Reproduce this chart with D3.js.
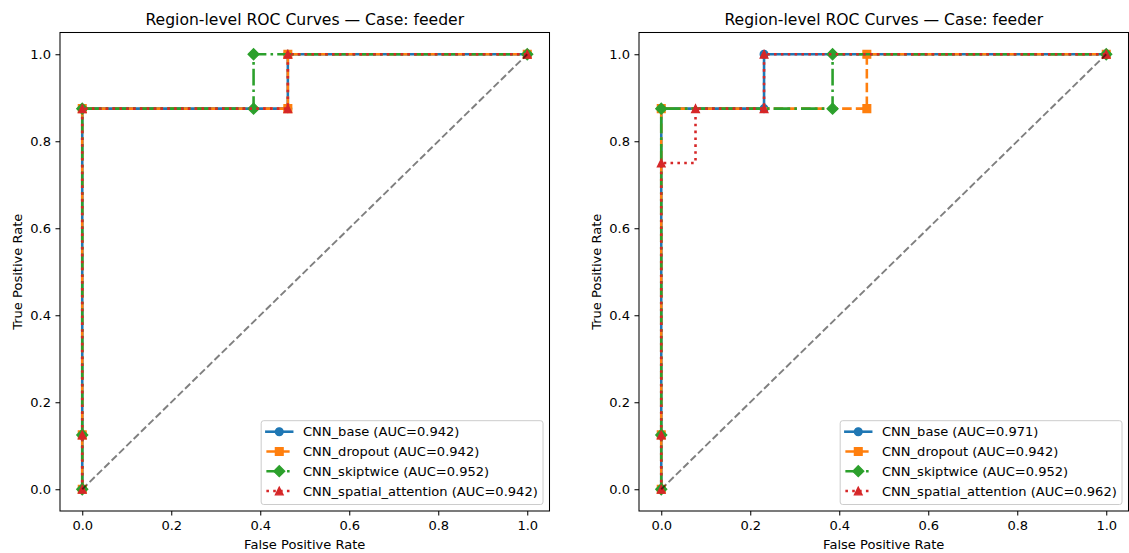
<!DOCTYPE html>
<html>
<head>
<meta charset="utf-8">
<script src="https://cdn.jsdelivr.net/npm/d3@7"></script>
<style>
  html, body { margin: 0; padding: 0; background: #fff; }
  svg { display: block; font-family: "DejaVu Sans", sans-serif; }
</style>
</head>
<body>
<svg id="chart" width="1129" height="553"></svg>
<script>
// ---- data ----
const models = ["CNN_base", "CNN_dropout", "CNN_skiptwice", "CNN_spatial_attention"];
const colors = ["#1f77b4", "#ff7f0e", "#2ca02c", "#d62728"];
const title = "Region-level ROC Curves \u2014 Case: feeder";
const tickValues = [0.0, 0.2, 0.4, 0.6, 0.8, 1.0];

// left panel (FPR / TPR per model)
const leftFPR = [
  [0, 0, 0, 0.462, 0.462, 1],
  [0, 0, 0, 0.462, 0.462, 1],
  [0, 0, 0, 0.385, 0.385, 1],
  [0, 0, 0, 0.462, 0.462, 1]
];
const leftTPR = [
  [0, 0.125, 0.875, 0.875, 1, 1],
  [0, 0.125, 0.875, 0.875, 1, 1],
  [0, 0.125, 0.875, 0.875, 1, 1],
  [0, 0.125, 0.875, 0.875, 1, 1]
];
const leftAUC = [0.942, 0.942, 0.952, 0.942];

// right panel
const rightFPR = [
  [0, 0, 0, 0.231, 0.231, 1],
  [0, 0, 0, 0.462, 0.462, 1],
  [0, 0, 0, 0.385, 0.385, 1],
  [0, 0, 0, 0.077, 0.231, 0.231, 1]
];
const rightTPR = [
  [0, 0.125, 0.875, 0.875, 1, 1],
  [0, 0.125, 0.875, 0.875, 1, 1],
  [0, 0.125, 0.875, 0.875, 1, 1],
  [0, 0.125, 0.75, 0.875, 0.875, 1, 1]
];
const rightAUC = [0.971, 0.942, 0.952, 0.962];

// ---- styling ----
const PT = 1.292;               // one point in pixels
const LW = 2 * PT;              // curve line width
const MS = 6 * PT;              // marker size
const MEW = 1 * PT;             // marker edge width
const dashes = [
  null,
  [3.7 * 2 * PT, 1.6 * 2 * PT],
  [6.4 * 2 * PT, 1.6 * 2 * PT, 1 * 2 * PT, 1.6 * 2 * PT],
  [1 * 2 * PT, 1.65 * 2 * PT]
];
const markerKinds = ["circle", "square", "diamond", "triangle"];
const FS = 13.05;               // tick / label / legend font size
const TITLE_FS = 15.6;

function markerPath(kind) {
  const h = MS / 2;
  if (kind === "circle") {
    return `M${h},0A${h},${h} 0 1,1 ${-h},0A${h},${h} 0 1,1 ${h},0Z`;
  }
  if (kind === "square") {
    return `M${-h},${-h}L${h},${-h}L${h},${h}L${-h},${h}Z`;
  }
  if (kind === "diamond") {
    const d = MS * Math.SQRT1_2;
    return `M0,${-d}L${d},0L0,${d}L${-d},0Z`;
  }
  return `M0,${-h}L${-h},${h}L${h},${h}Z`;
}

const svg = d3.select("#chart");
const plotTop = 32.5, plotBottom = 511;

function panel(x0, x1, fprs, tprs, aucs) {
  const g = svg.append("g");
  const x = d3.scaleLinear().domain([-0.05, 1.05]).range([x0, x1]);
  const y = d3.scaleLinear().domain([-0.05, 1.05]).range([plotBottom, plotTop]);

  const clipId = "clip" + Math.round(x0);
  g.append("clipPath").attr("id", clipId)
    .append("rect").attr("x", x0).attr("y", plotTop)
    .attr("width", x1 - x0).attr("height", plotBottom - plotTop);

  const plot = g.append("g").attr("clip-path", `url(#${clipId})`);
  const line = d3.line().x(d => x(d[0])).y(d => y(d[1])).curve(d3.curveStepAfter);

  models.forEach((m, i) => {
    const pts = fprs[i].map((f, j) => [f, tprs[i][j]]);
    plot.append("path")
      .attr("d", line(pts))
      .attr("fill", "none")
      .attr("stroke", colors[i])
      .attr("stroke-width", LW)
      .attr("stroke-linejoin", "round")
      .attr("stroke-linecap", dashes[i] ? "butt" : "square")
      .attr("stroke-dasharray", dashes[i] ? dashes[i].join(",") : null);
    plot.selectAll(null).data(pts).enter().append("path")
      .attr("d", markerPath(markerKinds[i]))
      .attr("transform", d => `translate(${x(d[0])},${y(d[1])})`)
      .attr("fill", colors[i])
      .attr("stroke", colors[i])
      .attr("stroke-width", MEW)
      .attr("stroke-linejoin", "miter");
  });

  // chance diagonal
  plot.append("line")
    .attr("x1", x(0)).attr("y1", y(0)).attr("x2", x(1)).attr("y2", y(1))
    .attr("stroke", "#000").attr("stroke-opacity", 0.5)
    .attr("stroke-width", 1.5 * PT)
    .attr("stroke-dasharray", [3.7 * 1.5 * PT, 1.6 * 1.5 * PT].join(","));

  // axes
  const xAxis = d3.axisBottom(x).tickValues(tickValues).tickFormat(d3.format(".1f"))
    .tickSize(3.5 * PT).tickPadding(3.5 * PT);
  const yAxis = d3.axisLeft(y).tickValues(tickValues).tickFormat(d3.format(".1f"))
    .tickSize(3.5 * PT).tickPadding(3.5 * PT);

  const gx = g.append("g").attr("transform", `translate(0,${plotBottom})`).call(xAxis);
  const gy = g.append("g").attr("transform", `translate(${x0},0)`).call(yAxis);
  [gx, gy].forEach(a => {
    a.select(".domain").remove();
    a.selectAll(".tick line").attr("stroke", "#000").attr("stroke-width", 0.8 * PT);
    a.selectAll(".tick text").attr("fill", "#000")
      .style("font-family", "DejaVu Sans").style("font-size", FS + "px");
  });
  gx.selectAll(".tick text").attr("dy", null).attr("y", 19);
  gy.selectAll(".tick text").attr("dy", null).attr("y", 4.7);

  // frame
  g.append("rect")
    .attr("x", x0).attr("y", plotTop).attr("width", x1 - x0).attr("height", plotBottom - plotTop)
    .attr("fill", "none").attr("stroke", "#000").attr("stroke-width", 0.8 * PT);

  // title and axis labels
  g.append("text").attr("x", (x0 + x1) / 2).attr("y", 25)
    .attr("text-anchor", "middle").style("font-size", TITLE_FS + "px").text(title);
  g.append("text").attr("x", (x0 + x1) / 2).attr("y", 548.5)
    .attr("text-anchor", "middle").style("font-size", FS + "px").text("False Positive Rate");
  g.append("text")
    .attr("transform", `translate(${x0 - 38.5},${(plotTop + plotBottom) / 2}) rotate(-90)`)
    .attr("text-anchor", "middle").style("font-size", FS + "px").text("True Positive Rate");

  // legend (lower right)
  const lg = g.append("g");
  const labels = models.map((m, i) => `${m} (AUC=${aucs[i].toFixed(3)})`);
  const texts = lg.selectAll("text").data(labels).enter().append("text")
    .style("font-size", FS + "px").text(d => d);
  const maxW = d3.max(texts.nodes(), n => n.getComputedTextLength());
  const pad = 5.2, handleLen = 25.8, textPad = 10.8;
  const boxW = pad + handleLen + textPad + maxW + pad;
  const boxR = x1 - 6.5, boxB = plotBottom - 6.5, boxT = 420.7;
  const boxL = boxR - boxW;
  lg.insert("rect", "text")
    .attr("x", boxL).attr("y", boxT).attr("width", boxW).attr("height", boxB - boxT)
    .attr("rx", 2.5).attr("ry", 2.5)
    .attr("fill", "#fff").attr("fill-opacity", 0.8)
    .attr("stroke", "#ccc").attr("stroke-width", 1);
  const rowY = i => boxT + 11 + i * 19.75;
  texts.attr("x", boxL + pad + handleLen + textPad).attr("y", (d, i) => rowY(i) + 4.7);
  models.forEach((m, i) => {
    const hx0 = boxL + pad, hx1 = boxL + pad + handleLen;
    lg.append("line")
      .attr("x1", hx0).attr("x2", hx1).attr("y1", rowY(i)).attr("y2", rowY(i))
      .attr("stroke", colors[i]).attr("stroke-width", LW)
      .attr("stroke-linecap", dashes[i] ? "butt" : "square")
      .attr("stroke-dasharray", dashes[i] ? dashes[i].join(",") : null);
    lg.append("path")
      .attr("d", markerPath(markerKinds[i]))
      .attr("transform", `translate(${(hx0 + hx1) / 2},${rowY(i)})`)
      .attr("fill", colors[i]).attr("stroke", colors[i]).attr("stroke-width", MEW);
  });
}

panel(60, 549.5, leftFPR, leftTPR, leftAUC);
panel(639, 1128.5, rightFPR, rightTPR, rightAUC);
</script>
</body>
</html>
